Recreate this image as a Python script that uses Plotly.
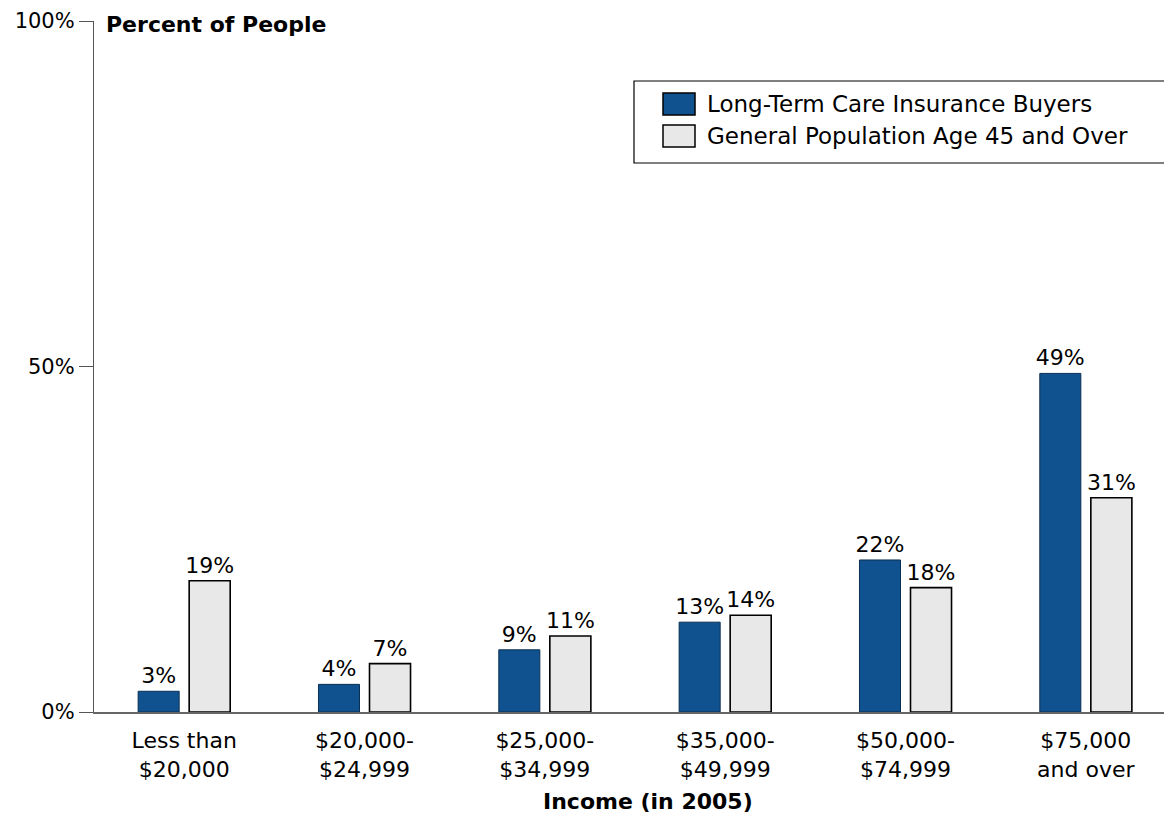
import plotly.graph_objects as go

# income brackets (tick labels) and the two series, in percent
categories = ["Less than<br>$20,000", "$20,000-<br>$24,999", "$25,000-<br>$34,999",
              "$35,000-<br>$49,999", "$50,000-<br>$74,999", "$75,000<br>and over"]
ltc_buyers = [3, 4, 9, 13, 22, 49]
general_pop = [19, 7, 11, 14, 18, 31]
series_names = ["Long-Term Care Insurance Buyers", "General Population Age 45 and Over"]

BLUE = "#10528f"
GREY = "#e8e8e8"
FONT = "DejaVu Sans"

# plot area in figure pixels (the page adds an 8px body margin)
L, T, R, B = 86, 13, 4, 131
W, H = 1172 - L - R, 835 - T - B


def px(x):
    return (x - L) / W


def py(y):
    return 1 - (y - T) / H


fig = go.Figure()
fig.add_trace(go.Bar(
    x=categories, y=ltc_buyers, name=series_names[0],
    marker=dict(color=BLUE, line=dict(color="#0b2f52", width=1)),
    text=[f"{v}%" for v in ltc_buyers], textposition="outside",
    textfont=dict(size=22, color="black"), cliponaxis=False, constraintext="none",
))
fig.add_trace(go.Bar(
    x=categories, y=general_pop, name=series_names[1],
    marker=dict(color=GREY, line=dict(color="black", width=1.6)),
    text=[f"{v}%" for v in general_pop], textposition="outside",
    textfont=dict(size=22, color="black"), cliponaxis=False, constraintext="none",
))

# hand-drawn legend box so the swatches keep their wide shape
shapes = [
    dict(type="rect", xref="paper", yref="paper", x0=px(626), x1=px(1200),
         y0=py(155), y1=py(73), line=dict(color="black", width=1.2),
         fillcolor="white", layer="above"),
    dict(type="rect", xref="paper", yref="paper", x0=px(655), x1=px(687),
         y0=py(107), y1=py(85), line=dict(color="black", width=1.5),
         fillcolor=BLUE, layer="above"),
    dict(type="rect", xref="paper", yref="paper", x0=px(655), x1=px(687),
         y0=py(139), y1=py(117), line=dict(color="black", width=1.5),
         fillcolor=GREY, layer="above"),
]

annotations = [
    dict(text=series_names[0], xref="paper", yref="paper", x=px(697), y=py(96),
         xanchor="left", yanchor="middle", showarrow=False, font=dict(size=23)),
    dict(text=series_names[1], xref="paper", yref="paper", x=px(697), y=py(128),
         xanchor="left", yanchor="middle", showarrow=False, font=dict(size=23)),
    dict(text="<b>Percent of People</b>", xref="paper", yref="paper",
         x=px(96), y=py(17), xanchor="left", yanchor="middle",
         showarrow=False, font=dict(size=22)),
    dict(text="<b>Income (in 2005)</b>", xref="paper", yref="paper",
         x=px(640), y=py(793), xanchor="center", yanchor="middle",
         showarrow=False, font=dict(size=22)),
]

fig.update_layout(
    width=1172, height=835,
    margin=dict(l=L, r=R, t=T, b=B, autoexpand=False),
    paper_bgcolor="white", plot_bgcolor="white",
    font=dict(family=FONT, size=22, color="black"),
    barmode="group", bargap=0.434, bargroupgap=0.196,
    showlegend=False,
    xaxis=dict(
        showline=True, linecolor="#666666", linewidth=1.5,
        ticks="", showgrid=False, tickfont=dict(size=22),
        ticklabelstandoff=8, automargin=False,
    ),
    yaxis=dict(
        range=[0, 100], tickvals=[0, 50, 100], ticktext=["0%", "50%", "100%"],
        showline=True, linecolor="#555555", linewidth=1.2,
        ticks="outside", ticklen=14, tickcolor="#555555", tickwidth=1.2,
        showgrid=False, zeroline=False, tickfont=dict(size=21),
        ticklabeloverflow="allow", automargin=False,
    ),
    shapes=shapes,
    annotations=annotations,
)

fig.write_html("out.html")
